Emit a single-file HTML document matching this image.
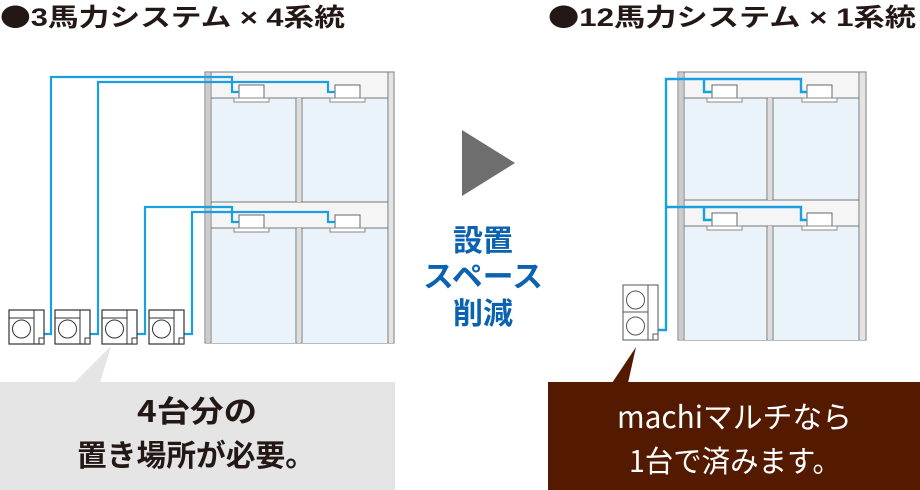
<!DOCTYPE html>
<html><head><meta charset="utf-8"><style>
html,body{margin:0;padding:0;background:#fff;}
svg{display:block;font-family:"Liberation Sans","Noto Sans CJK JP",sans-serif;}
</style></head><body>
<svg width="920" height="490" viewBox="0 0 920 490" xmlns="http://www.w3.org/2000/svg">
<defs>
 <g id="iu">
  <rect x="0" y="0" width="25" height="13" fill="#fff" stroke="#666" stroke-width="1"/>
  <rect x="-5" y="13" width="35" height="4" fill="#fff" stroke="#888" stroke-width="1"/>
 </g>
 <g id="ou">
  <rect x="0" y="0" width="35" height="34" fill="#fff" stroke="#333" stroke-width="1.2"/>
  <line x1="25" y1="0" x2="25" y2="34" stroke="#333"/>
  <line x1="0" y1="8" x2="25" y2="8" stroke="#333"/>
  <circle cx="12.5" cy="19" r="9" fill="#fff" stroke="#333"/>
  <rect x="30" y="28" width="5" height="6" fill="#fff" stroke="#333"/>
 </g>
</defs>
<!-- titles -->
<text x="0" y="26" font-size="25" font-weight="bold" fill="#231815" textLength="345" lengthAdjust="spacingAndGlyphs"><tspan font-family="Noto Sans CJK JP, sans-serif">●</tspan>3馬力システム × 4系統</text>
<text x="548" y="26" font-size="25" font-weight="bold" fill="#231815" textLength="368" lengthAdjust="spacingAndGlyphs"><tspan font-family="Noto Sans CJK JP, sans-serif">●</tspan>12馬力システム × 1系統</text>

<!-- left building -->
<rect x="205" y="72" width="189" height="271" fill="#f5f5f5" stroke="#777" stroke-width="1"/>
<rect x="211" y="98" width="85" height="104" fill="#eaf3fa"/>
<rect x="302" y="98" width="86" height="104" fill="#eaf3fa"/>
<rect x="211" y="228" width="85" height="115" fill="#eaf3fa"/>
<rect x="302" y="228" width="86" height="115" fill="#eaf3fa"/>
<g stroke="#777" stroke-width="1" fill="none">
 <line x1="211" y1="72" x2="211" y2="343"/><line x1="388" y1="72" x2="388" y2="343"/>
 <line x1="211" y1="98" x2="388" y2="98"/><line x1="211" y1="202" x2="388" y2="202"/>
 <line x1="211" y1="228" x2="388" y2="228"/>
 <line x1="296" y1="98" x2="296" y2="202"/><line x1="302" y1="98" x2="302" y2="202"/>
 <line x1="296" y1="228" x2="296" y2="343"/><line x1="302" y1="228" x2="302" y2="343"/>
</g>
<rect x="206" y="73" width="4" height="270" fill="#ccc"/>
<rect x="297" y="98" width="4" height="104" fill="#ddd"/>
<rect x="297" y="228" width="4" height="115" fill="#ddd"/>
<rect x="389" y="73" width="4" height="270" fill="#e4e4e4"/>
<use href="#iu" x="239" y="85"/><use href="#iu" x="335" y="85"/>
<use href="#iu" x="239" y="215"/><use href="#iu" x="335" y="215"/>
<g stroke="#1aa0e0" stroke-width="2.2" fill="none">
 <polyline points="44,334 51,334 51,77 232,77 232,92 239,92"/>
 <polyline points="90,334 98,334 98,82 328,82 328,92 335,92"/>
 <polyline points="137,334 145,334 145,207 232,207 232,222 239,222"/>
 <polyline points="184,334 192,334 192,212 328,212 328,222 335,222"/>
</g>
<use href="#ou" x="9" y="310"/><use href="#ou" x="55" y="310"/>
<use href="#ou" x="102" y="310"/><use href="#ou" x="149" y="310"/>

<!-- arrow & label -->
<polygon points="462,130 515,163 462,196" fill="#6e6e6e"/>
<g font-size="30" font-weight="bold" fill="#0a62b0" font-family="Noto Sans CJK JP, sans-serif">
 <text x="453" y="251" textLength="60" lengthAdjust="spacingAndGlyphs">設置</text>
 <text x="423" y="287" textLength="120" lengthAdjust="spacingAndGlyphs">スペース</text>
 <text x="453" y="324" textLength="60" lengthAdjust="spacingAndGlyphs">削減</text>
</g>

<!-- right building -->
<rect x="678" y="72" width="188" height="268" fill="#f5f5f5" stroke="#777" stroke-width="1"/>
<rect x="684" y="98" width="83" height="102" fill="#eaf3fa"/>
<rect x="773" y="98" width="86" height="102" fill="#eaf3fa"/>
<rect x="684" y="226" width="83" height="114" fill="#eaf3fa"/>
<rect x="773" y="226" width="86" height="114" fill="#eaf3fa"/>
<g stroke="#777" stroke-width="1" fill="none">
 <line x1="684" y1="72" x2="684" y2="340"/><line x1="859" y1="72" x2="859" y2="340"/>
 <line x1="684" y1="98" x2="859" y2="98"/><line x1="684" y1="200" x2="859" y2="200"/>
 <line x1="684" y1="226" x2="859" y2="226"/>
 <line x1="767" y1="98" x2="767" y2="200"/><line x1="773" y1="98" x2="773" y2="200"/>
 <line x1="767" y1="226" x2="767" y2="340"/><line x1="773" y1="226" x2="773" y2="340"/>
</g>
<rect x="679" y="73" width="4" height="267" fill="#ccc"/>
<rect x="768" y="98" width="4" height="102" fill="#ddd"/>
<rect x="768" y="226" width="4" height="114" fill="#ddd"/>
<rect x="860" y="73" width="5" height="267" fill="#e4e4e4"/>
<use href="#iu" x="712" y="85"/><use href="#iu" x="807" y="85"/>
<use href="#iu" x="712" y="213"/><use href="#iu" x="807" y="213"/>
<g stroke="#1aa0e0" stroke-width="2.4" fill="none">
 <polyline points="658,330 666,330 666,79 801,79 801,92 807,92"/>
 <polyline points="704,79 704,92 712,92"/>
 <polyline points="666,207 801,207 801,220 807,220"/>
 <polyline points="704,207 704,220 712,220"/>
</g>
<g stroke="#555" stroke-width="1" fill="#fff">
 <rect x="623" y="285" width="35" height="55"/>
 <line x1="648" y1="285" x2="648" y2="340"/>
 <line x1="623" y1="312" x2="648" y2="312"/>
 <circle cx="635.5" cy="300" r="9"/>
 <circle cx="635.5" cy="326" r="9"/>
 <rect x="653" y="334" width="5" height="6"/>
</g>

<!-- callouts -->
<polygon points="74,383 111,346 100,383" fill="#e5e5e5"/>
<rect x="0" y="382" width="395" height="108" fill="#e5e5e5"/>
<g font-size="30" font-weight="bold" fill="#231815" font-family="Noto Sans CJK JP, sans-serif">
 <text x="137" y="422" textLength="120" lengthAdjust="spacingAndGlyphs">4台分の</text>
 <text x="77" y="466" textLength="238" lengthAdjust="spacingAndGlyphs">置き場所が必要。</text>
</g>
<polygon points="612,383 636,347 628,383" fill="#541a00"/>
<rect x="548" y="382" width="372" height="108" fill="#541a00"/>
<g font-size="30" fill="#fff" font-family="Noto Sans CJK JP, sans-serif">
 <text x="617" y="428" textLength="235" lengthAdjust="spacingAndGlyphs">machiマルチなら</text>
 <text x="629" y="472" textLength="212" lengthAdjust="spacingAndGlyphs">1台で済みます。</text>
</g>
</svg>
</body></html>
